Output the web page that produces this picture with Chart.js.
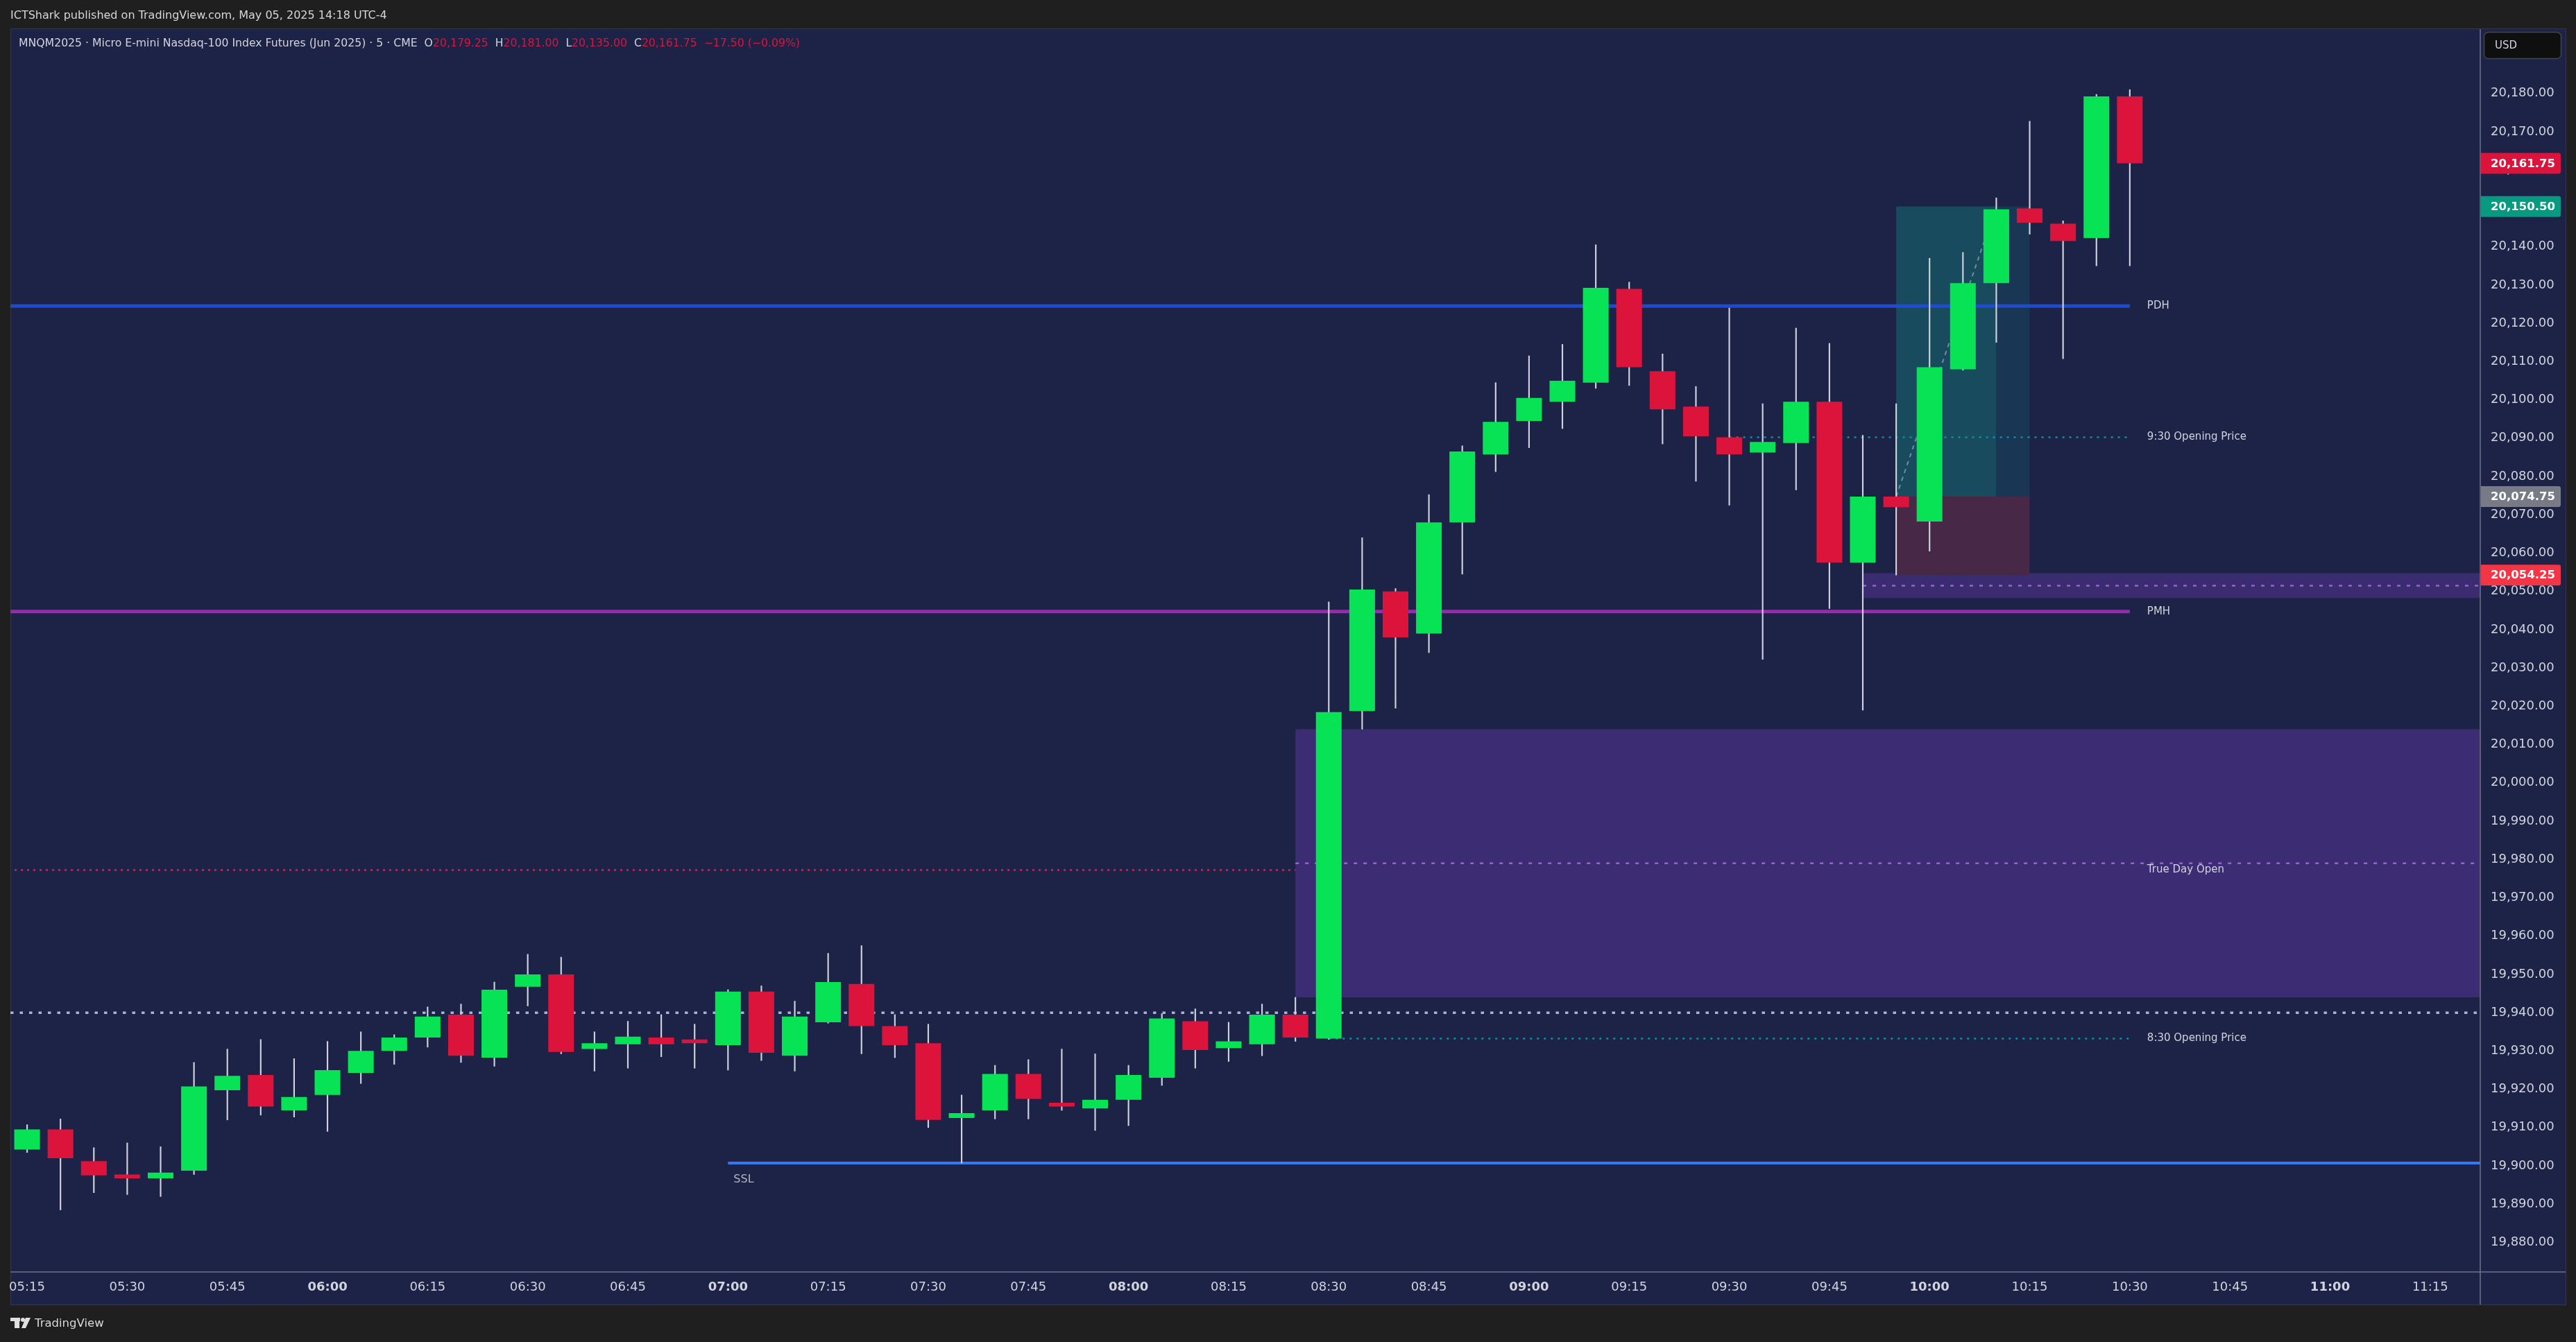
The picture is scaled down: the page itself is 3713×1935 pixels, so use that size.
<!DOCTYPE html>
<html>
<head>
<meta charset="utf-8">
<script src="https://cdn.jsdelivr.net/npm/chart.js@4.4.1/dist/chart.umd.min.js"></script>
<style>
  html, body { margin: 0; padding: 0; background: #1f1f1f; }
  #wrap { width: 3713px; height: 1935px; }
</style>
</head>
<body>
<div id="wrap"><canvas id="chart"></canvas></div>
<script>
// 5 minute bars, MNQM2025
const times = [
  '05:15','05:20','05:25','05:30','05:35','05:40','05:45','05:50','05:55',
  '06:00','06:05','06:10','06:15','06:20','06:25','06:30','06:35','06:40','06:45','06:50','06:55',
  '07:00','07:05','07:10','07:15','07:20','07:25','07:30','07:35','07:40','07:45','07:50','07:55',
  '08:00','08:05','08:10','08:15','08:20','08:25','08:30','08:35','08:40','08:45','08:50','08:55',
  '09:00','09:05','09:10','09:15','09:20','09:25','09:30','09:35','09:40','09:45','09:50','09:55',
  '10:00','10:05','10:10','10:15','10:20','10:25','10:30','10:35','10:40','10:45','10:50','10:55',
  '11:00','11:05','11:10','11:15','11:20'
];

const opens = [
  19904.25, 19909.5, 19901.25, 19897.75, 19896.75, 19898.75, 19919.75, 19923.75, 19914.5, 19918.5,
  19924.25, 19930.0, 19933.5, 19939.5, 19928.25, 19946.75, 19950.0, 19930.5, 19931.75, 19933.5,
  19933.0, 19931.5, 19945.5, 19928.75, 19937.5, 19947.5, 19936.5, 19932.0, 19912.5, 19914.5,
  19924.0, 19916.5, 19915.0, 19917.25, 19923.0, 19937.75, 19930.75, 19931.75, 19939.5, 19933.25,
  20018.75, 20050.0, 20039.0, 20068.0, 20085.75, 20094.5, 20099.5, 20104.5, 20129.0, 20107.5,
  20098.25, 20090.25, 20086.25, 20088.75, 20099.5, 20057.5, 20074.75, 20068.25, 20108.0, 20130.5,
  20150.0, 20146.0, 20142.25, 20179.25
];
const highs = [
  19910.75, 19912.25, 19904.75, 19906.0, 19905.0, 19927.0, 19930.5, 19933.0, 19928.0, 19932.5,
  19935.0, 19934.25, 19941.5, 19942.25, 19948.0, 19955.25, 19954.5, 19935.0, 19937.75, 19939.5,
  19937.0, 19946.0, 19947.0, 19943.0, 19955.5, 19957.5, 19939.5, 19937.0, 19918.5, 19926.25,
  19927.75, 19930.5, 19929.25, 19926.25, 19939.75, 19941.0, 19937.5, 19942.25, 19944.0, 20047.25,
  20064.0, 20050.75, 20075.25, 20088.0, 20104.5, 20111.5, 20114.5, 20140.5, 20130.75, 20112.0,
  20103.5, 20124.0, 20099.0, 20118.75, 20114.75, 20090.75, 20099.0, 20137.0, 20138.5, 20152.75,
  20172.75, 20146.75, 20179.75, 20181.0
];
const lows = [
  19903.5, 19888.5, 19893.0, 19892.5, 19892.0, 19897.75, 19912.0, 19913.25, 19912.75, 19909.0,
  19921.5, 19926.5, 19931.0, 19927.0, 19926.0, 19941.75, 19929.25, 19924.75, 19925.5, 19928.5,
  19925.5, 19925.0, 19927.5, 19924.75, 19937.25, 19929.25, 19928.25, 19910.0, 19900.75, 19912.25,
  19912.25, 19914.5, 19909.25, 19910.5, 19921.0, 19925.5, 19927.25, 19928.75, 19932.5, 19933.0,
  20014.0, 20019.5, 20034.0, 20054.5, 20081.25, 20087.5, 20092.5, 20103.0, 20103.75, 20088.5,
  20078.75, 20072.5, 20032.25, 20076.5, 20045.5, 20019.0, 20054.25, 20060.5, 20107.75, 20115.0,
  20143.25, 20110.75, 20135.0, 20135.0
];
const closes = [
  19909.5, 19902.0, 19897.5, 19896.75, 19898.25, 19920.75, 19923.5, 19915.5, 19918.0, 19925.0,
  19930.0, 19933.5, 19939.0, 19928.75, 19946.0, 19950.0, 19929.75, 19932.0, 19933.75, 19931.75,
  19932.0, 19945.5, 19929.5, 19939.0, 19948.0, 19936.5, 19931.5, 19912.0, 19913.75, 19924.0,
  19917.5, 19915.5, 19917.25, 19923.75, 19938.5, 19930.25, 19932.5, 19939.5, 19933.5, 20018.5,
  20050.5, 20038.0, 20068.0, 20086.5, 20094.25, 20100.5, 20105.0, 20129.25, 20108.5, 20097.5,
  20090.5, 20085.75, 20089.0, 20099.5, 20057.5, 20074.75, 20072.0, 20108.5, 20130.5, 20149.75,
  20146.25, 20141.5, 20179.25, 20161.75
];

const yTicks = [
  19880, 19890, 19900, 19910, 19920, 19930, 19940, 19950, 19960, 19970, 19980, 19990,
  20000, 20010, 20020, 20030, 20040, 20050, 20060, 20070, 20080, 20090, 20100, 20110,
  20120, 20130, 20140, 20150, 20160, 20170, 20180
];

// drawn levels and zones (prices, bar indexes)
const levelNames = ['PDH', 'PMH', '9:30 Opening Price', 'True Day Open', '8:30 Opening Price'];
const levelPrices = [20124.5, 20044.75, 20090.25, 19977.25, 19933.25];
const levelStarts = [null, null, 51, null, 39];
const levelEnd = 63;
const sslPrice = 19900.75;
const sslStart = 21;
const refDotted = 19940.0;
const fvgZone = [19944.0, 20014.0, 38];
const smallZone = [20048.25, 20054.75, 55];
const entryPrice = 20074.75, stopPrice = 20054.25, targetPrice = 20150.5;
const positionBars = [56, 59, 60];
const badgePrices = [20161.75, 20150.5, 20074.75, 20054.25];

const GREEN = '#08e356', RED = '#dc143c', NAVY = '#1d2247', TXT = '#d1d4dc';
const FONT = '"DejaVu Sans", sans-serif';

function hline(ctx, x1, x2, y, color, width, dash) {
  ctx.save();
  ctx.strokeStyle = color;
  ctx.lineWidth = width;
  ctx.setLineDash(dash || []);
  ctx.beginPath();
  ctx.moveTo(x1, y);
  ctx.lineTo(x2, y);
  ctx.stroke();
  ctx.restore();
}

const tvPlugin = {
  id: 'tv',
  beforeDraw(chart) {
    const ctx = chart.ctx;
    ctx.save();
    ctx.fillStyle = '#1f1f1f';
    ctx.fillRect(0, 0, chart.width, chart.height);
    ctx.fillStyle = NAVY;
    ctx.fillRect(15, 42, 3683, 1839);
    ctx.strokeStyle = '#34374a';
    ctx.lineWidth = 1;
    ctx.strokeRect(15.5, 41.5, 3683, 1840);

    ctx.textBaseline = 'middle';
    ctx.font = '16px ' + FONT;
    ctx.fillStyle = '#d6d6d6';
    ctx.fillText('ICTShark published on TradingView.com, May 05, 2025 14:18 UTC-4', 15, 23);

    // legend
    const parts = [
      ['MNQM2025 · Micro E-mini Nasdaq-100 Index Futures (Jun 2025) · 5 · CME  O', TXT],
      ['20,179.25', RED], ['  H', TXT], ['20,181.00', RED], ['  L', TXT], ['20,135.00', RED],
      ['  C', TXT], ['20,161.75', RED], ['  \u221217.50 (\u22120.09%)', RED]
    ];
    ctx.font = '15.7px ' + FONT;
    let x = 27;
    parts.forEach(p => {
      ctx.fillStyle = p[1];
      ctx.fillText(p[0], x, 63);
      x += ctx.measureText(p[0]).width;
    });

    // footer logo
    ctx.fillStyle = '#e0e0e0';
    ctx.fillRect(15, 1900, 14, 5);
    ctx.fillRect(21, 1900, 7, 15);
    ctx.beginPath();
    ctx.arc(33, 1903, 3, 0, Math.PI * 2);
    ctx.fill();
    ctx.beginPath();
    ctx.moveTo(37, 1900);
    ctx.lineTo(44, 1900);
    ctx.lineTo(37, 1915);
    ctx.lineTo(31, 1915);
    ctx.closePath();
    ctx.fill();
    ctx.font = '16.5px ' + FONT;
    ctx.fillStyle = '#d9d9d9';
    ctx.fillText('TradingView', 50, 1909);
    ctx.restore();
  },
  beforeDatasetsDraw(chart) {
    const ctx = chart.ctx, a = chart.chartArea;
    const X = i => chart.scales.x.getPixelForValue(i);
    const Y = p => chart.scales.y.getPixelForValue(p);
    ctx.save();
    ctx.beginPath();
    ctx.rect(a.left, a.top, a.right - a.left, a.bottom - a.top);
    ctx.clip();

    // true day open (under the zone)
    hline(ctx, a.left + 6, X(levelEnd), Y(levelPrices[3]), RED, 3, [3, 6]);
    // reference dotted
    hline(ctx, a.left, a.right, Y(refDotted), '#aab2d8', 3.5, [4.5, 9]);

    // zones
    ctx.fillStyle = '#3c2c73';
    ctx.fillRect(X(fvgZone[2]), Y(fvgZone[1]), a.right - X(fvgZone[2]), Y(fvgZone[0]) - Y(fvgZone[1]));
    hline(ctx, X(fvgZone[2]), a.right, Y((fvgZone[0] + fvgZone[1]) / 2), '#9462d6', 2.5, [5, 9]);
    ctx.fillStyle = '#3b2c72';
    ctx.fillRect(X(smallZone[2]), Y(smallZone[1]), a.right - X(smallZone[2]), Y(smallZone[0]) - Y(smallZone[1]));
    hline(ctx, X(smallZone[2]), a.right, Y((smallZone[0] + smallZone[1]) / 2), '#9462d6', 2.5, [5, 9]);

    // long position box
    const bx0 = X(positionBars[0]), bx1 = X(positionBars[1]), bx2 = X(positionBars[2]);
    ctx.fillStyle = '#174b5d';
    ctx.fillRect(bx0, Y(targetPrice), bx1 - bx0, Y(entryPrice) - Y(targetPrice));
    ctx.fillStyle = '#193654';
    ctx.fillRect(bx1, Y(targetPrice), bx2 - bx1, Y(entryPrice) - Y(targetPrice));
    ctx.fillStyle = '#472847';
    ctx.fillRect(bx0, Y(entryPrice), bx2 - bx0, Y(stopPrice) - Y(entryPrice));
    ctx.strokeStyle = 'rgba(160,165,180,0.7)';
    ctx.lineWidth = 2;
    ctx.setLineDash([6, 6]);
    ctx.beginPath();
    ctx.moveTo(bx0, Y(entryPrice));
    ctx.lineTo(bx1, Y(targetPrice));
    ctx.stroke();
    ctx.setLineDash([]);

    // levels
    hline(ctx, a.left, X(levelEnd), Y(levelPrices[0]), '#1e4bd6', 5);
    hline(ctx, a.left, X(levelEnd), Y(levelPrices[1]), '#9c27b0', 5);
    hline(ctx, X(levelStarts[2]), X(levelEnd), Y(levelPrices[2]), '#0097a7', 2.5, [3, 7]);
    hline(ctx, X(levelStarts[4]), X(levelEnd), Y(levelPrices[4]), '#0097a7', 2.5, [3, 7]);
    hline(ctx, X(sslStart), a.right, Y(sslPrice), '#3179f5', 4);
    ctx.restore();

    // labels
    ctx.save();
    ctx.font = '15px ' + FONT;
    ctx.fillStyle = TXT;
    ctx.textBaseline = 'middle';
    levelNames.forEach((n, i) => ctx.fillText(n, X(levelEnd) + 25, Y(levelPrices[i])));
    ctx.font = '16px ' + FONT;
    ctx.fillStyle = '#b2b5be';
    ctx.fillText('SSL', X(sslStart) + 8, Y(sslPrice) + 24);
    ctx.restore();
  },
  afterDraw(chart) {
    const ctx = chart.ctx, a = chart.chartArea;
    const Y = p => chart.scales.y.getPixelForValue(p);
    ctx.save();
    // separators
    ctx.strokeStyle = '#6f7389';
    ctx.lineWidth = 1.5;
    ctx.beginPath();
    ctx.moveTo(a.left, a.bottom);
    ctx.lineTo(3698, a.bottom);
    ctx.moveTo(a.right, 42);
    ctx.lineTo(a.right, 1881);
    ctx.stroke();

    // USD box
    ctx.fillStyle = '#0f0f0f';
    ctx.strokeStyle = '#434651';
    ctx.lineWidth = 1.5;
    ctx.beginPath();
    ctx.roundRect(3580.5, 46.5, 111, 38, 6);
    ctx.fill();
    ctx.stroke();
    ctx.fillStyle = TXT;
    ctx.font = '15px ' + FONT;
    ctx.textBaseline = 'middle';
    ctx.fillText('USD', 3596, 66);

    // price badges
    const badgeColors = [RED, '#089981', '#787b86', '#f23645'];
    ctx.font = 'bold 16.5px ' + FONT;
    badgePrices.forEach((p, i) => {
      const y = Y(p);
      ctx.fillStyle = badgeColors[i];
      ctx.beginPath();
      ctx.roundRect(a.right + 1, y - 15, 115, 30, [0, 3, 3, 0]);
      ctx.fill();
      ctx.fillStyle = '#ffffff';
      ctx.fillText(p.toLocaleString('en-US', { minimumFractionDigits: 2 }), 3590, y + 1);
    });
    ctx.restore();
  }
};

new Chart(document.getElementById('chart'), {
  type: 'bar',
  data: {
    labels: times,
    datasets: [
      {
        label: 'body',
        data: opens.map((o, i) => [o, closes[i]]),
        backgroundColor: opens.map((o, i) => closes[i] >= o ? GREEN : RED),
        barPercentage: 0.77,
        categoryPercentage: 1.0,
        grouped: false,
        borderSkipped: false,
        minBarLength: 2,
        order: 0
      },
      {
        label: 'wick',
        data: lows.map((l, i) => [l, highs[i]]),
        backgroundColor: '#cfd2dc',
        barThickness: 1.5,
        grouped: false,
        borderSkipped: false,
        order: 1
      }
    ]
  },
  options: {
    responsive: true,
    maintainAspectRatio: false,
    devicePixelRatio: 1,
    animation: false,
    layout: { padding: { left: 15, top: 42, right: 15, bottom: 54 } },
    plugins: { legend: { display: false }, tooltip: { enabled: false } },
    scales: {
      x: {
        type: 'category',
        offset: true,
        grid: { display: false, drawTicks: false },
        border: { display: false },
        afterFit: s => { s.height = 47; },
        ticks: {
          autoSkip: false,
          maxRotation: 0,
          minRotation: 0,
          padding: 12,
          color: TXT,
          font: c => ({
            family: FONT,
            size: 18,
            weight: (c.tick && String(c.tick.label).endsWith(':00')) ? 'bold' : 'normal'
          }),
          callback: (v, i) => (Number(times[i].slice(3)) % 15 === 0 ? times[i] : null)
        }
      },
      y: {
        type: 'linear',
        position: 'right',
        min: 19872.3,
        max: 20196.8,
        grid: { display: false, drawTicks: false },
        border: { display: false },
        afterFit: s => { s.width = 123; },
        afterBuildTicks: s => { s.ticks = yTicks.map(v => ({ value: v })); },
        ticks: {
          padding: 15,
          color: TXT,
          font: { family: FONT, size: 18 },
          callback: v => v.toLocaleString('en-US', { minimumFractionDigits: 2, maximumFractionDigits: 2 })
        }
      }
    }
  },
  plugins: [tvPlugin]
});
</script>
</body>
</html>
